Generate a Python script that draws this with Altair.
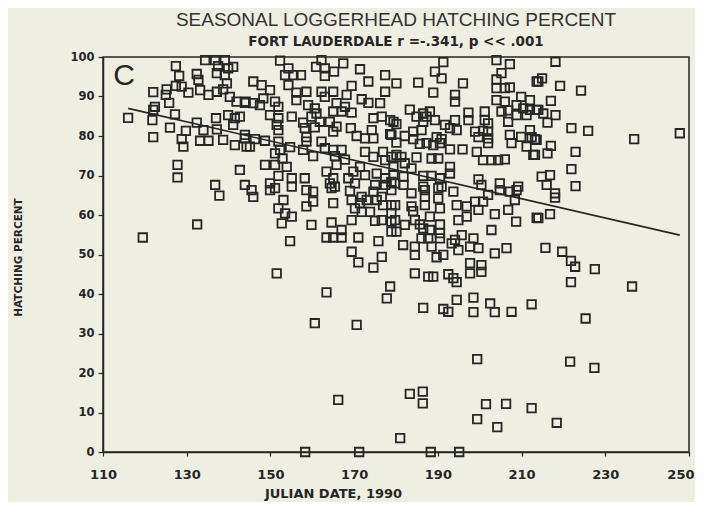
import altair as alt
import pandas as pd

julian_date = [
    127.4, 128.2, 132.4, 132.8, 134.4, 136.8, 137.5, 139.1, 141.1, 137.2, 139.1, 139.9, 139.6,
    122.0, 125.2, 127.4, 128.8, 125.0, 130.4, 133.2, 135.2, 137.2, 138.7, 125.8, 140.3, 141.9,
    144.1, 122.4, 122.0, 116.0, 121.8, 127.2, 137.0, 139.9, 141.5, 142.7, 141.1, 126.0, 129.8,
    132.4, 134.0, 137.2, 138.7, 143.9, 122.0, 128.8, 129.2, 133.2, 135.2, 141.5, 144.3, 127.8,
    127.8, 136.8, 142.7, 143.9,
    # zone 2
    152.3, 162.2, 167.4, 160.9, 163.0, 165.2, 163.0, 171.4, 177.4, 173.4, 153.5, 155.5, 157.3,
    154.3, 145.9, 147.9, 154.3, 149.9, 156.2, 158.6, 162.2, 165.0, 169.4, 168.2, 177.4, 163.0,
    148.3, 156.2, 171.8, 173.4, 176.2, 143.9, 145.9, 147.5, 151.1, 151.9, 159.0, 160.6, 165.8,
    167.8, 167.0, 169.4, 165.0, 161.0, 159.8, 149.9, 155.1, 151.9, 157.8, 161.8, 164.2, 165.8,
    174.6, 176.6, 178.6, 151.5, 158.2, 160.6, 151.9, 169.2, 174.2, 170.6, 172.6, 174.6, 178.9,
    165.0, 158.6, 158.6, 143.9, 145.1, 146.3, 148.7, 151.9, 162.2, 163.0, 165.0, 167.0, 152.3,
    154.7, 157.8, 160.2, 151.1, 152.9, 165.4, 167.8, 172.6, 174.6, 176.9, 177.4, 178.9, 148.7,
    151.1, 153.9, 165.8, 171.4, 163.4, 151.9, 155.1, 158.2, 165.0, 168.6, 169.8, 172.6, 175.4,
    177.4, 149.9, 164.2, 165.4, 170.2, 175.0, 177.4, 178.9,
    # zone 3
    191.3, 204.0, 207.2, 189.3, 190.9, 180.1, 185.3, 196.0, 213.6, 205.2, 204.0, 204.0, 206.0,
    207.2, 188.9, 194.1, 194.1, 204.0, 206.0, 209.9, 212.0, 208.8, 183.3, 188.1, 186.5, 197.3,
    201.2, 205.2, 206.8, 210.4, 212.0, 213.6, 184.9, 187.3, 189.3, 194.1, 197.3, 201.2, 208.8,
    211.2, 179.4, 180.1, 186.5, 191.7, 192.9, 194.5, 202.0, 206.8, 212.0, 184.1, 186.1, 198.9,
    200.8, 202.0, 178.6, 182.1, 184.1, 189.7, 190.9, 199.7, 202.0, 207.2, 209.9, 212.4, 213.6,
    180.1, 185.7, 187.3, 188.9, 190.5, 202.0, 207.6, 211.2, 192.9, 195.9, 199.3, 180.1, 181.3,
    184.9, 188.5, 190.1, 200.8, 202.8, 204.4, 206.0, 212.8, 179.4, 182.1, 183.7, 192.9, 192.9,
    179.4, 181.8, 186.5, 188.5, 190.5, 199.7, 179.8, 181.8, 186.5, 190.9, 204.8, 209.2, 200.4,
    # zone 4
    218.1, 214.9, 214.0, 219.2, 224.2, 217.0, 214.0, 215.2, 218.1, 216.2, 221.9, 225.9, 236.9,
    247.8, 213.2, 217.0, 216.2, 213.2, 222.9, 221.9, 214.8, 216.8, 216.0, 222.9,
    # zone 5
    119.5, 132.5, 137.8,
    # zone 6
    145.5, 145.9, 149.9, 151.1, 155.1, 158.6, 160.2, 164.6, 169.0, 171.8, 174.6, 176.6, 178.9,
    153.1, 151.9, 153.5, 155.1, 152.7, 158.6, 160.2, 165.0, 169.4, 171.4, 173.0, 175.4, 176.9,
    178.9, 170.2, 171.8, 173.8, 169.4, 175.0, 176.6, 178.9, 178.9, 159.8, 164.6, 167.0, 163.4,
    165.0, 167.0, 171.0, 175.8, 178.9, 154.7, 169.4, 171.0, 174.6, 176.6, 151.5, 163.4, 178.6,
    177.8, 160.6, 170.6,
    # zone 7
    183.7, 186.9, 186.9, 190.1, 190.1, 193.7, 179.8, 183.7, 186.9, 190.5, 194.5, 196.9, 198.9,
    200.8, 202.0, 199.7, 204.8, 207.2, 208.8, 208.4, 206.8, 203.6, 208.7, 213.6, 184.1, 179.8,
    180.1, 182.1, 184.5, 185.7, 186.5, 188.1, 188.1, 190.5, 190.5, 190.5, 186.1, 187.7, 194.9,
    196.9, 202.8, 195.7, 194.1, 193.3, 198.5, 197.7, 199.7, 194.9, 181.7, 184.5, 184.5, 188.5,
    189.7, 191.3, 203.6, 206.4, 197.7, 197.7, 200.4, 200.4, 184.5, 187.7, 188.9, 192.5, 193.7,
    194.5, 194.5, 198.5, 186.5, 191.3, 192.5, 198.5, 202.5, 203.6, 207.6, 212.4,
    # zone 8
    218.0, 218.0, 214.0, 216.8, 215.7, 219.7, 221.8, 222.8, 227.5, 221.8, 236.4, 225.3,
    # bottom
    166.2, 181.0, 158.3, 171.2,
    199.4, 221.6, 227.4, 183.3, 186.4, 186.4, 201.5, 206.3, 212.4, 199.4, 204.2, 218.4, 188.3,
    195.1,
]

hatch_pct = [
    97.7, 95.2, 95.7, 94.2, 99.2, 99.2, 97.7, 99.2, 97.5, 95.9, 95.4, 97.1, 93.3,
    91.1, 91.8, 92.7, 92.5, 90.4, 91.0, 91.6, 90.4, 91.2, 91.8, 88.4, 89.9, 88.7,
    88.7, 87.4, 86.6, 84.6, 84.0, 85.5, 84.5, 85.3, 84.5, 84.9, 82.8, 82.1, 81.3,
    83.4, 81.5, 81.7, 79.0, 80.3, 79.7, 79.2, 77.3, 78.8, 78.8, 77.7, 77.3, 72.7,
    69.5, 67.6, 71.4, 67.6,
    # zone 2
    99.1, 99.2, 98.4, 97.5, 97.1, 96.3, 95.2, 96.9, 95.4, 93.8, 95.4, 95.4, 95.4,
    97.1, 93.8, 92.9, 92.9, 91.6, 91.0, 91.2, 91.2, 91.2, 92.7, 90.4, 91.2, 89.9,
    89.5, 89.1, 89.3, 88.4, 88.3, 88.4, 88.3, 87.8, 88.7, 87.4, 87.8, 87.0, 88.3,
    87.4, 86.2, 85.9, 86.2, 85.7, 84.9, 85.3, 84.9, 84.5, 83.4, 83.6, 83.6, 82.4,
    84.5, 84.9, 84.0, 82.8, 82.0, 82.2, 81.5, 82.0, 81.5, 80.0, 79.4, 79.4, 80.3,
    81.1, 79.7, 78.6, 79.4, 77.3, 79.2, 78.8, 78.6, 78.6, 76.9, 76.5, 76.5, 76.5,
    77.2, 76.5, 74.9, 75.6, 74.3, 74.9, 74.0, 76.0, 74.7, 76.0, 73.9, 74.7, 72.7,
    72.7, 72.2, 72.7, 72.2, 71.0, 69.9, 69.3, 69.3, 69.3, 69.3, 71.0, 70.1, 70.5,
    69.3, 68.0, 68.0, 67.2, 68.0, 67.6, 67.6, 68.4,
    # zone 3
    98.7, 99.2, 98.2, 96.3, 94.6, 93.3, 93.5, 93.3, 93.8, 95.9, 94.3, 92.1, 92.1,
    92.3, 91.0, 90.4, 88.7, 89.1, 88.7, 89.9, 89.1, 87.8, 86.7, 86.2, 85.7, 85.9,
    86.2, 86.2, 86.5, 87.0, 86.6, 86.6, 84.9, 84.9, 84.0, 84.0, 84.0, 84.0, 85.3,
    85.3, 83.6, 83.0, 83.6, 82.8, 82.0, 81.5, 83.2, 83.6, 81.5, 81.1, 81.5, 81.1,
    81.3, 81.1, 80.5, 80.0, 79.2, 79.7, 79.2, 79.7, 79.4, 80.3, 79.8, 79.7, 79.0,
    78.3, 78.0, 78.2, 77.7, 78.2, 78.2, 78.2, 77.3, 76.6, 76.6, 76.0, 75.2, 74.7,
    74.6, 74.3, 74.3, 73.9, 73.9, 73.9, 74.1, 75.2, 72.2, 73.1, 71.8, 72.2, 70.5,
    70.1, 69.7, 69.9, 69.9, 69.3, 69.0, 68.0, 67.6, 67.2, 67.2, 68.0, 67.2, 67.6,
    # zone 4
    98.8, 94.6, 93.8, 92.7, 91.5, 88.9, 86.6, 85.7, 85.3, 83.4, 82.0, 81.3, 79.2,
    80.7, 79.2, 77.5, 75.6, 75.2, 76.0, 71.6, 69.7, 70.1, 67.6, 67.3,
    # zone 5
    54.3, 57.6, 64.9,
    # zone 6
    66.3, 64.6, 66.3, 66.8, 67.2, 66.3, 65.9, 66.8, 66.1, 64.6, 65.9, 64.6, 66.3,
    63.8, 61.7, 60.4, 59.6, 57.9, 62.2, 63.4, 63.0, 63.8, 63.0, 63.8, 63.8, 62.5,
    62.5, 61.7, 60.8, 60.8, 58.7, 58.5, 58.7, 60.4, 58.3, 57.5, 58.1, 56.2, 54.3,
    54.3, 54.3, 54.3, 53.4, 55.8, 53.4, 50.7, 48.0, 46.7, 49.4, 45.2, 40.4, 41.9,
    38.9, 32.6, 32.2,
    # zone 7
    65.5, 66.3, 64.6, 66.8, 64.2, 65.9, 62.5, 62.2, 62.5, 61.7, 62.5, 62.2, 63.4,
    63.4, 65.1, 61.3, 66.3, 65.9, 66.3, 63.8, 61.3, 60.2, 58.3, 59.3, 61.0, 58.7,
    55.8, 57.5, 58.7, 57.6, 56.6, 59.6, 56.2, 57.6, 55.4, 54.1, 54.1, 54.1, 58.7,
    59.6, 56.2, 54.9, 53.7, 52.8, 54.1, 52.0, 51.6, 51.1, 52.4, 52.0, 49.9, 52.0,
    49.3, 49.9, 50.3, 51.6, 47.8, 45.2, 47.3, 45.6, 45.2, 44.4, 44.4, 45.0, 44.0,
    43.0, 38.5, 39.1, 36.5, 36.2, 35.5, 35.4, 37.6, 35.4, 35.5, 37.4,
    # zone 8
    65.5, 64.4, 59.2, 60.2, 51.7, 50.7, 48.4, 46.9, 46.3, 43.0, 41.9, 33.8,
    # bottom
    13.2, 3.5, 0.0, 0.0,
    23.5, 22.9, 21.3, 14.7, 15.3, 12.3, 12.1, 12.2, 11.1, 8.3, 6.3, 7.4, 0.0,
    0.0,
]

fit_date = [116.0, 247.8]
fit_pct = [87.0, 54.9]

x_ticks = [110, 130, 150, 170, 190, 210, 230, 250]
y_ticks = [0, 10, 20, 30, 40, 50, 60, 70, 80, 90, 100]

n = min(len(julian_date), len(hatch_pct))
pts = pd.DataFrame({"date": julian_date[:n], "pct": hatch_pct[:n]})
fit = pd.DataFrame({"date": fit_date, "pct": fit_pct})
panel = pd.DataFrame({"label": ["C"]})

ink = "#262626"
font = "Liberation Sans"
bold_font = "DejaVu Sans"

xs = alt.Scale(domain=[110, 250], nice=False, zero=False)
ys = alt.Scale(domain=[0, 100], nice=False)


def make_xaxis():
    return alt.Axis(values=x_ticks, title="JULIAN DATE, 1990", grid=False,
                    labelFont=bold_font, labelFontSize=13, labelFontWeight="bold",
                    labelColor=ink, labelPadding=12, tickSize=4, tickColor=ink,
                    labelOverlap=False, labelFlush=False,
                    labelAlign=alt.ExprRef(expr="datum.value == 250 ? 'right' : 'center'"),
                    labelOffset=alt.ExprRef(expr="datum.value == 250 ? 5 : 0"),
                    domainColor=ink, domainWidth=1.5, tickWidth=1.2,
                    titleFont=bold_font, titleFontSize=13, titleFontWeight="bold",
                    titleColor=ink, titleX=230, titleY=41, titleAlign="center",
                    titleBaseline="middle")


def make_yaxis():
    return alt.Axis(values=y_ticks, title="HATCHING PERCENT", grid=False,
                    labelFont=bold_font, labelFontSize=11.5, labelFontWeight="bold",
                    labelColor=ink, labelPadding=4, tickSize=5, tickColor=ink,
                    labelOverlap=False, labelFlush=False,
                    domainColor=ink, domainWidth=1.5, tickWidth=1.2,
                    titleFont=bold_font, titleFontSize=10.5, titleFontWeight="bold",
                    titleColor=ink, titleX=-85, titleY=200, titleAngle=-90,
                    titleAlign="center", titleBaseline="middle")


scatter = alt.Chart(pts).mark_point(
    shape="square", filled=False, size=72, strokeWidth=1.8, color=ink, opacity=1
).encode(
    x=alt.X("date:Q", scale=xs, axis=make_xaxis()),
    y=alt.Y("pct:Q", scale=ys, axis=make_yaxis()),
)

line = alt.Chart(fit).mark_line(color=ink, strokeWidth=1.6).encode(
    x=alt.X("date:Q", scale=xs, axis=make_xaxis()),
    y=alt.Y("pct:Q", scale=ys, axis=make_yaxis()),
)

letter = alt.Chart(panel).mark_text(
    font=font, fontSize=30, color=ink, align="center", baseline="middle"
).encode(text="label:N", x=alt.value(21), y=alt.value(19))

chart = alt.layer(scatter, line, letter).properties(
    width=586,
    height=395,
    autosize=alt.AutoSizeParams(type="none"),
    padding={"left": 95, "top": 49, "right": 6, "bottom": 50},
    background="#efeee3",
    title=alt.TitleParams(
        text="SEASONAL LOGGERHEAD HATCHING PERCENT",
        subtitle="FORT LAUDERDALE r =-.341, p << .001",
        font=font, fontSize=19, fontWeight="normal", color="#333333",
        subtitleFont=bold_font, subtitleFontSize=13.5, subtitleFontWeight="bold",
        subtitleColor=ink, subtitlePadding=5, anchor="middle", offset=3,
    ),
).configure_view(stroke=ink, strokeWidth=1.5, fill="#efeee3")

chart.save("out.html", embed_options={"renderer": "svg", "actions": False})
